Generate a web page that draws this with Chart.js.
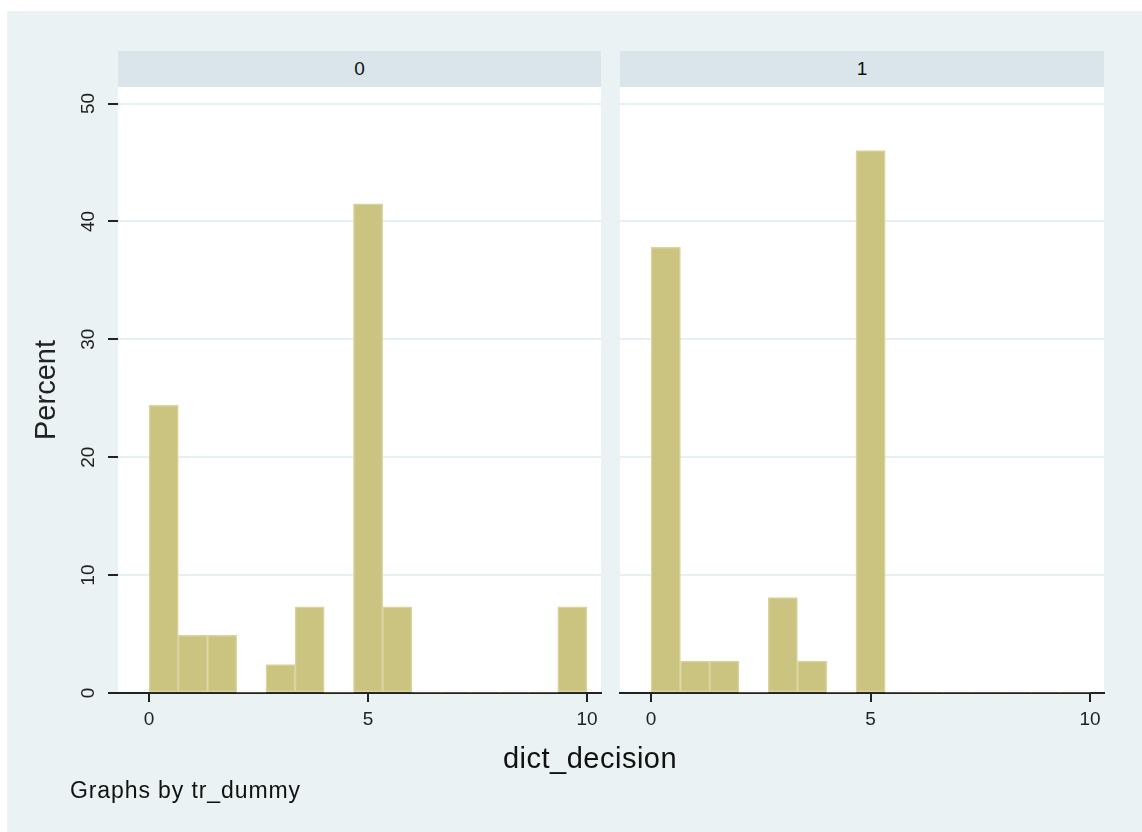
<!DOCTYPE html>
<html>
<head>
<meta charset="utf-8">
<title>dict_decision by tr_dummy</title>
<script src="https://cdn.jsdelivr.net/npm/chart.js@4/dist/chart.umd.min.js"></script>
<style>
  html, body { margin: 0; padding: 0; background: #ffffff; }
  body { width: 1142px; height: 832px; position: relative; overflow: hidden;
         font-family: "Liberation Sans", Arial, sans-serif; color: #111; }
  #frame { position: absolute; left: 7px; top: 11px; width: 1135px; height: 821px; background: #eaf2f3; }
  .strip { position: absolute; top: 51px; height: 36px; background: #d9e5ea;
           font-size: 19px; line-height: 36px; text-align: center; }
  .panel { position: absolute; top: 0; height: 832px; }
  #xtitle { position: absolute; left: 390px; width: 400px; top: 740px; text-align: center;
            font-size: 29px; letter-spacing: 0.5px; line-height: 36px; }
  #note { position: absolute; left: 70px; top: 776px; font-size: 23px; letter-spacing: 0.9px; line-height: 28px; }
</style>
</head>
<body>
<div id="frame"></div>
<div class="strip" id="strip0" style="left:118px; width:483px;"></div>
<div class="strip" id="strip1" style="left:620px; width:484px;"></div>
<canvas id="panel0" class="panel" style="left:0; width:610px;" width="610" height="832"></canvas>
<canvas id="panel1" class="panel" style="left:610px; width:532px;" width="532" height="832"></canvas>
<div id="xtitle"></div>
<div id="note"></div>
<script>
// Histogram bins of dict_decision (bin width 2/3, starting at 0)
const binStarts = [0, 0.667, 1.333, 2, 2.667, 3.333, 4, 4.667, 5.333, 6, 6.667, 7.333, 8, 8.667, 9.333];
const binWidth = 0.667;

// Percent of observations in each bin, by tr_dummy group
const groupLabels = ['0', '1'];
const pctGroup0 = [24.4, 4.9, 4.9, 0, 2.4, 7.3, 0, 41.5, 7.3, 0, 0, 0, 0, 0, 7.3];
const pctGroup1 = [37.8, 2.7, 2.7, 0, 8.1, 2.7, 0, 46.0, 0, 0, 0, 0, 0, 0, 0];

// Axis ticks and titles
const xTicks = [0, 5, 10];
const yTicks = [0, 10, 20, 30, 40, 50];
const xTitle = 'dict_decision';
const yTitle = 'Percent';
const noteText = 'Graphs by tr_dummy';

document.getElementById('strip0').textContent = groupLabels[0];
document.getElementById('strip1').textContent = groupLabels[1];
document.getElementById('xtitle').textContent = xTitle;
document.getElementById('note').textContent = noteText;

const FONT = '"Liberation Sans", Arial, sans-serif';
const BAR_FILL = '#cbc380';
const BAR_EDGE = '#dad39c';
const GRID = '#e6eff1';
const INK = '#222222';

// white plot region behind the bars
const plotBackground = {
  id: 'plotBackground',
  beforeDraw(chart) {
    const a = chart.chartArea, ctx = chart.ctx;
    ctx.save();
    ctx.fillStyle = '#ffffff';
    ctx.fillRect(a.left, a.top, a.right - a.left, a.bottom - a.top);
    ctx.restore();
  }
};

function makePanel(canvasId, values, showYAxis) {
  const points = binStarts.map((s, i) => ({ x: s + binWidth / 2, y: values[i] }));
  return new Chart(document.getElementById(canvasId), {
    type: 'bar',
    data: {
      datasets: [{
        data: points,
        backgroundColor: BAR_FILL,
        borderColor: BAR_EDGE,
        borderWidth: ctx => (ctx.raw && ctx.raw.y > 0 ? 1.5 : 0),
        borderSkipped: false,
        barPercentage: 1,
        categoryPercentage: 1
      }]
    },
    options: {
      responsive: false,
      animation: false,
      layout: showYAxis
        ? { padding: { left: 30, top: 87, right: 9, bottom: 79 } }
        : { padding: { left: 10, top: 87, right: 38, bottom: 79 } },
      plugins: { legend: { display: false }, tooltip: { enabled: false } },
      scales: {
        x: {
          type: 'linear',
          min: -0.71,
          max: 10.32,
          offset: false,
          afterBuildTicks: s => { s.ticks = xTicks.map(v => ({ value: v })); },
          afterFit: s => { s.height = 60; },
          grid: { offset: false, drawOnChartArea: false, drawTicks: true, tickLength: 9, tickColor: INK, lineWidth: 2 },
          border: { display: true, color: INK, width: 2 },
          ticks: { font: { family: FONT, size: 19 }, color: INK, padding: 6, maxRotation: 0 }
        },
        y: {
          min: 0,
          max: 51.4,
          afterBuildTicks: s => { s.ticks = yTicks.map(v => ({ value: v })); },
          afterFit: s => { s.width = showYAxis ? 88 : 0; },
          border: { display: false },
          grid: {
            color: GRID, lineWidth: 2,
            drawTicks: showYAxis, tickLength: 10, tickColor: INK, tickWidth: 2
          },
          ticks: showYAxis
            ? { display: true, font: { family: FONT, size: 19 }, color: INK, padding: 9,
                minRotation: 90, maxRotation: 90, crossAlign: 'center' }
            : { display: false },
          title: showYAxis
            ? { display: true, text: yTitle, font: { family: FONT, size: 29 }, color: INK, padding: 0 }
            : { display: false }
        }
      }
    },
    plugins: [plotBackground]
  });
}

makePanel('panel0', pctGroup0, true);
makePanel('panel1', pctGroup1, false);
</script>
</body>
</html>
